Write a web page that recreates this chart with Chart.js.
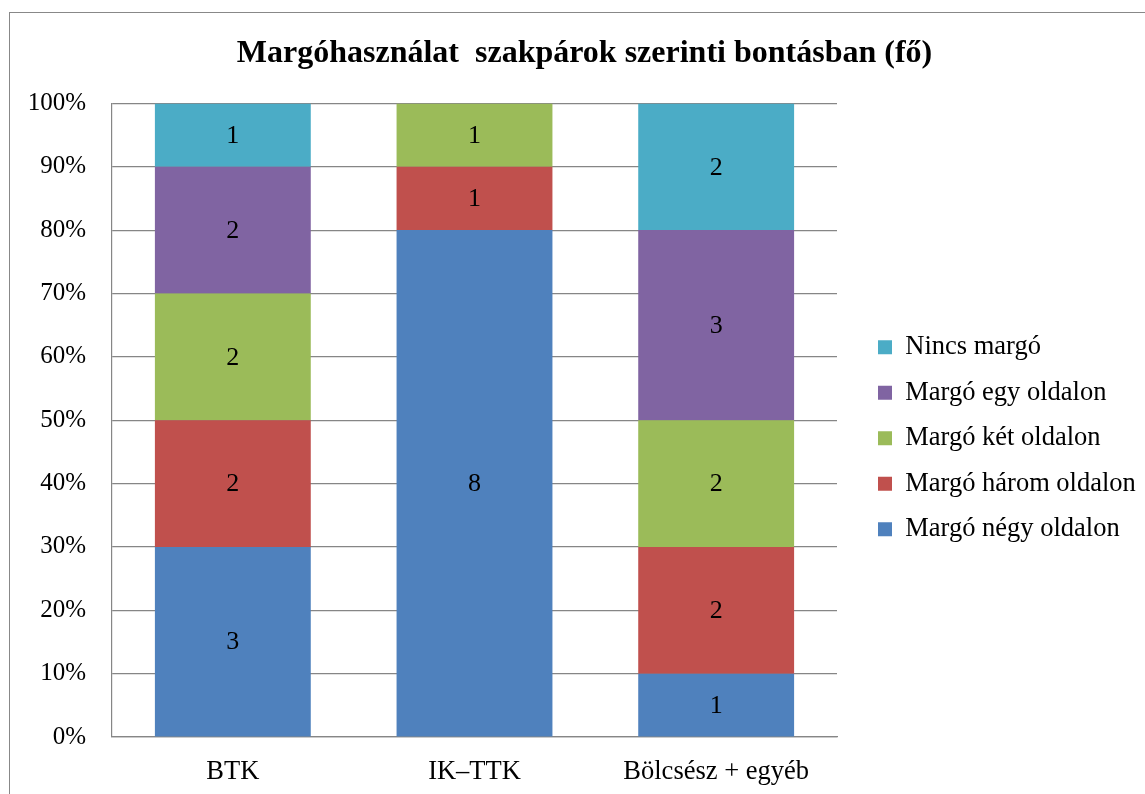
<!DOCTYPE html>
<html>
<head>
<meta charset="utf-8">
<title>Margóhasználat</title>
<script src="https://cdn.jsdelivr.net/npm/chart.js@4.4.1/dist/chart.umd.min.js"></script>
<style>
    html, body { margin: 0; padding: 0; background: #fff; overflow: hidden; }
    #frame {
        position: absolute; left: 9px; top: 12px;
        width: 2000px; height: 2000px;
        border: 1px solid #888;
    }
    #chart { position: absolute; left: 0; top: 0; }
</style>
</head>
<body>
<div id="frame"></div>
<canvas id="chart" width="1145" height="794"></canvas>
<script>
// Counts (persons) per field group, bottom segment first
const categories = ['BTK', 'IK–TTK', 'Bölcsész + egyéb'];
const seriesNames = ['Margó négy oldalon', 'Margó három oldalon', 'Margó két oldalon', 'Margó egy oldalon', 'Nincs margó'];
const seriesColors = ['#4f81bd', '#c0504d', '#9bbb59', '#8064a2', '#4bacc6'];
const negyOldalon = [3, 8, 1];
const haromOldalon = [2, 1, 2];
const ketOldalon = [2, 1, 2];
const egyOldalon = [2, 0, 3];
const nincsMargo = [1, 0, 2];
const yTicks = [0, 10, 20, 30, 40, 50, 60, 70, 80, 90, 100];

const FONT = "'Liberation Serif', 'Times New Roman', serif";
const GRID = '#868686';

const counts = [negyOldalon, haromOldalon, ketOldalon, egyOldalon, nincsMargo];
const totals = categories.map((_, i) => counts.reduce((s, arr) => s + arr[i], 0));

const datasets = counts.map((arr, k) => ({
    label: seriesNames[k],
    data: arr.map((v, i) => v / totals[i] * 100),
    counts: arr,
    backgroundColor: seriesColors[k],
    borderWidth: 0,
    barPercentage: 0.645,
    categoryPercentage: 1,
}));

// Writes the count in the middle of each segment
const segmentLabels = {
    id: 'segmentLabels',
    afterDatasetsDraw(chart) {
        const ctx = chart.ctx;
        ctx.save();
        ctx.font = `26px ${FONT}`;
        ctx.fillStyle = '#000';
        ctx.textAlign = 'center';
        ctx.textBaseline = 'middle';
        chart.data.datasets.forEach((ds, di) => {
            chart.getDatasetMeta(di).data.forEach((bar, i) => {
                if (!ds.counts[i]) return;
                ctx.fillText(String(ds.counts[i]), bar.x, (bar.y + bar.base) / 2 + 1);
            });
        });
        ctx.restore();
    }
};

new Chart(document.getElementById('chart'), {
    type: 'bar',
    data: { labels: categories, datasets },
    plugins: [segmentLabels],
    options: {
        responsive: false,
        animation: false,
        layout: { padding: { left: 24, right: 0, top: 0, bottom: 0 } },
        plugins: {
            tooltip: { enabled: false },
            title: {
                display: true,
                text: 'Margóhasználat  szakpárok szerinti bontásban (fő)',
                color: '#000',
                font: { family: FONT, size: 32, weight: 'bold' },
                padding: { top: 35, bottom: 30 },
            },
            legend: {
                display: true,
                position: 'right',
                fullSize: false,
                reverse: true,
                maxWidth: 286,
                title: { display: true, text: ' ', font: { size: 10 }, padding: { top: 24, bottom: 0 } },
                labels: {
                    color: '#000',
                    font: { family: FONT, size: 26.5 },
                    boxWidth: 14,
                    boxHeight: 14,
                    padding: 19,
                },
            },
        },
        scales: {
            x: {
                stacked: true,
                grid: { display: false, drawTicks: false },
                border: { display: true, color: GRID, width: 1.2 },
                ticks: { color: '#000', font: { family: FONT, size: 26.5 }, padding: 19 },
                afterFit: (s) => { s.height = 57; },
            },
            y: {
                stacked: true,
                min: 0,
                max: 100,
                afterBuildTicks: (s) => { s.ticks = yTicks.map(v => ({ value: v })); },
                grid: { color: GRID, lineWidth: 1.2, drawTicks: false },
                border: { display: true, color: GRID, width: 1.2 },
                ticks: {
                    color: '#000',
                    font: { family: FONT, size: 25 },
                    padding: 26,
                    callback: (v) => v + '%',
                },
                afterFit: (s) => { s.width = 88; },
            },
            // empty spacer between plot and legend
            gap: {
                position: 'right',
                display: true,
                grid: { display: false },
                border: { display: false },
                ticks: { display: false },
                afterFit: (s) => { s.width = 22; },
            },
        },
    },
});
</script>
</body>
</html>
